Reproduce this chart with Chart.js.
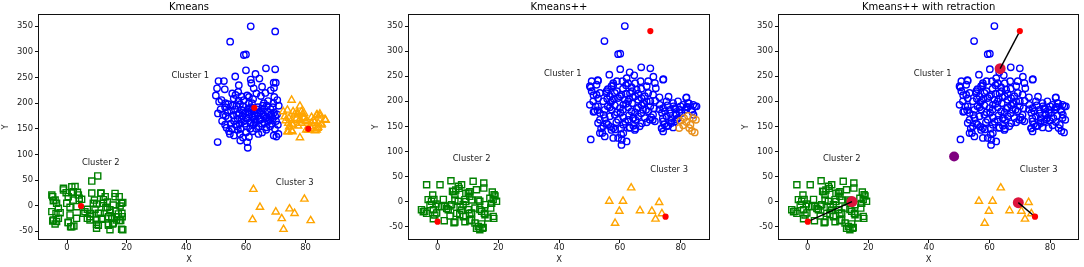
<!DOCTYPE html>
<html><head><meta charset="utf-8">
<script src="https://cdn.jsdelivr.net/npm/chart.js@4.4.1/dist/chart.umd.min.js"></script>
<style>
html,body{margin:0;padding:0;background:#fff;width:1084px;height:267px;overflow:hidden;}
canvas{position:absolute;top:0;}
</style></head><body>
<canvas id="c1" width="360" height="267" style="left:0px"></canvas>
<canvas id="c2" width="360" height="267" style="left:370px"></canvas>
<canvas id="c3" width="344" height="267" style="left:740px"></canvas>
<script>
// ---------- shared labels ----------
const titles = ['Kmeans', 'Kmeans++', 'Kmeans++ with retraction'];
const xTicks = [0, 20, 40, 60, 80];
const yTicks = [-50, 0, 50, 100, 150, 200, 250, 300, 350];
const noteText = ['Cluster 1', 'Cluster 2', 'Cluster 3'];
const notePosKm = [[35, 250], [5, 80], [70, 40]];
const notePosPP = [[35, 250], [5, 80], [70, 60]];

// ---------- panel 1 : Kmeans ----------
const kmCluster1 = [
[61.6,350],[54.7,320],[69.8,340],[59.3,294],[60,295],[60,264],[66.7,268],[69.8,266],[56.4,252],[63.2,257],[61.6,246],[64.5,248],[50.8,243],[52.6,243],[50.3,229],[52.9,227],[49.9,215],[57.6,235],[57.4,222],[55.4,219],[61.8,239],[62.6,229],[63.5,219],[65,214],[65.4,232],[66.5,220],[67.4,204],[68.3,225],[69.3,240],[70,240],[69.4,230],[69.5,212],[70.5,206],[69.2,200],[51,203],[51.8,206],[53.1,200],[55.9,209],[56.5,216],[59.3,206],[58.5,213],[60.4,215],[61,212],[62.4,208],
[50.6,180],[51.5,188],[52.3,178],[53,192],[53.8,183],[54.2,170],[54.9,160],[55.2,150],[54.6,140],[55.8,176],[56.3,188],[56.8,195],[57.2,170],[57.6,180],[57.9,160],[58.2,150],[58.5,187],[58.8,175],[59.1,193],[59.4,165],[59.8,181],[60.2,155],[60.5,170],[60.8,190],[61.1,178],[61.5,162],[61.8,185],[62.2,172],[62.5,158],[62.9,180],[63.3,165],[63.6,188],[64,175],[64.3,155],[64.7,182],[65,168],[65.4,160],[65.8,178],[66.1,190],[66.5,170],[66.9,153],[67.2,183],[67.6,165],[68,175],[68.3,188],[68.7,160],[69,170],[69.4,182],[69.7,150],[70.1,165],[70.4,178],[70.7,158],[70.9,140],[70.2,135],[69.3,137],[71,195],
[50.5,124],[58.1,127],[60.6,113],[60.4,124],[61,134],[56,137],[54.3,145],[53.5,152],[57.3,148],[60,143],[62.3,145],[63.5,150],[65.4,143],[66.8,148],[64.2,140],
[53.2,175],[55,185],[56,165],[57,155],[58,198],[59,185],[60,172],[61,200],[62,188],[63,176],[64,192],[65,185],[66,175],[67,195],[68,168],[69,192],[55.5,195],[57.5,205],[59.6,160],[61.4,150],[62.8,168],[64.5,168],[66.2,162],[68.5,178],[52,165],[53,158],[56.6,158],[58.6,168],[60.9,183],[63.8,182],[67,172],[69.8,175],[54,198],[66,200],[62,200],[58,140],[59,133],[57,177],[61.7,192],[63.1,162],[65.6,195],[68.1,155]
];
const kmCluster3Upper = [
[75.3,206],[78.1,194.5],[72.5,183.4],[73.9,186.7],[75.8,183.4],[76.4,179],[77.3,181.4],[78.6,183.4],[79.5,180],[73,173.6],[74.4,170.5],[75.3,167],[77,170.5],[78.1,168.5],[79.2,172.4],[80.3,167],[82,172.4],[83.7,177],[84.8,179],[86.7,167],[83.1,164],[84.2,161],[85.3,157.5],[74.2,161],[75.8,157.5],[77.5,155.5],[78.6,161],[74.2,144.4],[75.3,146.4],[78.1,132.6],[80.2,147.7],[82,151],[83.7,147.7],[84.2,153],[82,161],
[73.3,166],[73.9,144.5],[75.6,144.5],[77.3,177],[77.9,166],[79,179],[79.4,170],[80.1,164],[80.9,147.7],[81.5,154],[83.9,177],[84.8,175],[85.4,159.4],[86.5,168.5],[84,151],[82.6,166],[83.2,146.4],[75.4,159.4],[74.5,154]
];
const kmCluster3Lower = [[62.5,32],[64.7,-3],[62.2,-27],[70,-12],[72,-25],[72.6,-46],[74.6,-6],[76.3,-15],[79.6,13],[81.7,-29]];
const kmCluster2 = [
[8.3,48],[10.3,58],[-4.8,17.5],[-4,11],[-1.2,34],[-0.3,25.4],[1.6,37],[2.1,27],[3.8,21],[4.9,12.4],[11.3,24.2],[12.8,17.5],[16.1,24],[17.5,17.5],[18.3,4.6],[-3.5,4.6],[-2.9,-5],[-2.3,-13.7],[-4.6,-28],[-3.5,-31],[-5.1,-11.6],[-0.1,4.6],[1,-3],[2.1,11],[0.4,-33],[1.6,-41],[3.3,-2],[6,-11.7],[7.7,-21.5],[8.8,4.6],[9.4,-7],[10.5,-14.8],[10,-28],[10.5,-38],[11.6,-26.6],[12.2,4.6],[13.5,-3],[14.4,-13.7],[15,-24.6],[15.5,-34],[16.7,-21.5],[17.5,-29],[17.8,-0.6],[18.4,-14.8],[18.7,-47],[14.4,-47],[13.9,-38],
[-5.1,20.9],[-4.6,9.8],[-3.7,-15],[-2.9,-24.6],[-4.8,-29.8],[-4,-35.7],[-1.2,30.7],[0.4,17.6],[1.6,25.5],[2.7,37.2],[3.5,26],[4.1,14.4],[1,-18],[0.4,-33],[1.2,-41],[2.3,-39.6],[3.2,-24.6],[5.5,-14.9],[6.8,-7],[6.8,-24.6],[7.9,-15],[7.7,-28],[9.2,11],[9.9,3.3],[8.3,24.6],[11.4,24.6],[12.2,11.7],[13.5,7],[13,-4],[14.4,-7.7],[9.9,-44],[9.9,-36.4],[11.6,-24.6],[11.1,-15],[13.9,-21.5],[15.5,1.3],[16.1,17.6],[16.3,-9.7],[17.2,-16],[18,-29],[18.5,-21.5],[18.7,6],[18.3,-46],[15,-24.6],[15.3,-35.7],[16.6,-28],[13.9,-35.7]
];
const kmCentroids = [[62.8,191],[80.9,150],[4.7,-0.6]];

// ---------- panels 2 & 3 : Kmeans++ ----------
const ppCluster1 = [
[61.6,350],[54.9,320],[59.4,294],[60.1,295],[60.1,264],[67,267.7],[70,265.7],[56.5,253],[63.2,257.7],
[64.7,251.7],[50.7,240],[52.8,241],[52.3,233],[50.1,230],[57.8,236],[57.2,230],[62.2,246],[62.7,236],[63.8,228],[65,236],[65.5,223],[63.3,216],[50.7,220],[52.3,213],[53.4,216.5],[55.6,220],[56.7,210],[58.3,216.5],[59.4,206.5],[60.5,213],[61.6,203],[62.7,200],[64.3,208],[66,203],[51.2,200],[50.1,193],[52.8,190],[54.5,200],[51.7,180],[53.4,176.6],[55,183],[56.7,188],[58.3,192],[60,186.5],[61.1,193],[62.7,188],[63.8,180],[65.5,185],[67.1,192],[55,166.6],[56.7,170],[58.3,173],[59.4,163],[61.1,168],[62.7,163],[64.3,166.6],[66,170],[52.8,156.7],[54.5,150],[56.1,153],[57.8,146.7],[61.1,153],[63.3,148],[64.9,143],[66.5,150],[53.4,136.7],[55,130],[57.2,143],[59.4,127],[61.1,136.7],[62.2,120],[60.5,113],[50.4,124],
[69.3,240],[71.5,236.4],[74.2,243],[68.8,230],[69.3,216.5],[70.9,213],[67.1,206.5],[67.6,196.5],[68.8,200],[81.9,208],[75.3,200],[77.5,196.5],[79.1,200],[80.8,193],[82.4,196.5],[84.1,193],[85.2,190],[73.1,193],[74.2,186.5],[76.4,183],[78.1,186.5],[79.7,183],[81.9,188],[83.5,183],[67.6,183],[69.3,180],[70.9,173],[68.2,166.6],[69.8,163],[71.5,160],[74.8,180],[75.3,170],[76.9,166.6],[78.6,173],[80.3,176.6],[74.2,160],[73.7,146.7],[74.2,140],[75.3,150],[76.9,156.7],[77.5,148],[78.1,160],[79.1,166.6],
[50.4,227.7],[52.7,242],[51.3,212],[52.8,206],[52,190],[51.3,179],[52.6,182],[57.8,232],[56,224],[55.6,216],[57.4,202],[56,190],[54.6,173],[53.4,163],[53.8,146],[54.2,137],[55.6,156],[56.9,149],[57.8,127],[58.4,144],[60.4,134],[60.6,123],[60.4,146],[61.7,159],[63.1,147],[64.4,151],[65.1,163],[65.1,146],[64.4,166],
[67.2,156],[68.8,158],[70.3,168],[70.8,163],[68.6,183],[70,190],[71.6,201],[71.2,186],[73,184],[73.8,177],[74.1,166],[73.8,146],[74.6,154],[75.9,151],[76,209],[75.6,192],[77.6,190],[78.4,184],[78.4,175],[78.7,164],[76.8,161],[76.5,176],[79.6,178],[81.8,207],[81.4,183],[82.2,189],[83.8,179],[84.7,190],[84.2,173],[82.7,196],[80,190],[74.3,244],[71,249],
[58,205],[59,220],[60,210],[61,225],[62,215],[63,205],[64,220],[65,210],[66,215],[67,225],[57,198],[59,178],[61,183],[63,172],[65,178],[67,176],[58.8,158],[60.2,177],[62,195],[64,196],[66,188],[68,195],[55.8,205],[57.3,183],[60.8,240],[62,232],[59,240],[66.8,240],[68.2,210],[70,200],[71.8,226],[73,208]
];
const ppCluster1Edge = [[79.9,161],[81.1,166.6],[82.4,171],[84.1,166.6],[85,163],[79.5,146.7],[80.8,152],[81.9,158.6],[83.2,153],[83.7,141],[84.6,138],[82.8,146.7]];
const ppCluster2 = [
[-3.6,33.7],[0.8,33.7],[4.4,41.6],[11.7,40.4],[15.2,37],[15.2,27],[6.8,30.5],[7.9,33.7],[4.9,20.5],[5.7,13.7],[10.1,17],[10.6,10.5],[12.8,23.7],[18,19],[18.6,13.7],[18.3,4],[19.4,0.6],[-3.1,4],[-2,0.6],[-2.5,-6],[-5.3,-16],[-4.2,-19.4],[-1.4,-16],[-0.3,-22.7],[0.2,-9.4],[-1.4,-34],[2.2,-38],[5.7,-40.6],[7.3,-26],[2.4,-9.4],[3.5,-16],[4.6,-6],[6.8,0.6],[8.4,-6],[9,4],[10.1,-16],[11.2,-22.7],[12.3,-12.8],[10.6,-38],[12.3,-42.7],[13.4,-49.4],[13.9,-56],[15,-51.4],[14.5,-19.4],[15.6,-26],[16.6,-32.7],[18.3,-29.4],[17.5,-12.8],[15.6,-6],[13.9,0.6],
[-4.7,-20],[-3.6,-23.4],[-1.6,13],[-1.2,4.5],[-0.5,-4.8],[1.3,-10],[1.9,4.5],[3,-13.5],[4.1,-8.8],[5.2,19.8],[6,23],[7.1,26.4],[5.7,3.2],[7.4,-10],[7.9,-16.8],[9.3,16.5],[10.6,19.8],[9.3,0],[11.2,3.2],[13.4,3.2],[13.9,-15.5],[15.4,-23.4],[17.2,6.5],[17.8,-3.5],[18.9,11],[18.5,-33.4],[10.6,-23.4],[11.2,-36.7],[12.8,-53.3],[14.5,-44.5],[14.8,-53.3],[8.5,-30],[9,-40],[6.3,-23.4],[4.1,-28.7],[5.4,-42],[-0.9,-26.7]
];
const ppCluster3 = [[56.5,1],[58.4,-43],[59.8,-19],[61,1],[63.7,27.7],[66.6,-18],[70.5,-19],[71.7,-34.7],[72.9,-1.5],[73.8,-24]];
const ppInitCentroids = [[70,340],[0,-40],[75,-30]];
const retractedCentroids = [[63.5,265],[14.6,0],[69.5,-2]];
const extraCentroid = [[48.3,90]];

// ---------- helpers ----------
const pts = a => a.map(p => ({x: p[0], y: p[1]}));
function marks(data, style, color, radius, order, filled, bw) {
  return {data: pts(data), pointStyle: style, pointRadius: radius, pointHoverRadius: radius,
    pointBorderColor: color, pointBackgroundColor: filled ? color : 'rgba(0,0,0,0)',
    pointBorderWidth: bw === undefined ? 1.4 : bw, showLine: false, order: order};
}
function segment(a, b) {
  return {data: pts([a, b]), showLine: true, borderColor: '#000', borderWidth: 1.4,
    pointRadius: 0, pointHoverRadius: 0, order: 2, fill: false};
}
const FONT = 'DejaVu Sans';
const framePlugin = {
  id: 'frame',
  afterDatasetsDraw(chart, args, opts) {
    const {ctx, chartArea: a, scales} = chart;
    ctx.save();
    ctx.fillStyle = '#1a1a1a';
    ctx.font = '8.4px "' + FONT + '"';
    ctx.textAlign = 'left';
    ctx.textBaseline = 'alphabetic';
    opts.notes.forEach((p, i) => ctx.fillText(noteText[i], scales.x.getPixelForValue(p[0]), scales.y.getPixelForValue(p[1])));
    ctx.strokeStyle = '#111';
    ctx.lineWidth = 1;
    ctx.strokeRect(Math.round(a.left) - 0.5, Math.round(a.top) - 0.5, Math.round(a.right - a.left) + 1, Math.round(a.bottom - a.top) + 1);
    ctx.font = '10px "' + FONT + '"';
    ctx.textAlign = 'center';
    ctx.fillStyle = '#000';
    ctx.fillText(opts.title, (a.left + a.right) / 2, a.top - 4.7);
    ctx.restore();
  }
};
function makeChart(id, title, datasets, xr, yr, padRight, notes) {
  const tickFont = {family: FONT, size: 8.4};
  const grid = {display: true, drawOnChartArea: false, drawTicks: true, tickLength: 4, color: '#111', lineWidth: 1};
  return new Chart(document.getElementById(id), {
    type: 'scatter',
    data: {datasets: datasets},
    plugins: [framePlugin],
    options: {
      responsive: false, devicePixelRatio: 1, animation: false,
      layout: {padding: {top: 15, right: padRight, bottom: 0, left: 0}},
      plugins: {legend: {display: false}, tooltip: {enabled: false}, frame: {title: title, notes: notes}},
      scales: {
        x: {type: 'linear', min: xr[0], max: xr[1],
          afterBuildTicks: s => { s.ticks = xTicks.map(v => ({value: v})); },
          afterFit: s => { s.height = 28; },
          grid: grid, border: {display: false},
          ticks: {font: tickFont, color: '#1a1a1a', padding: 0, maxRotation: 0, autoSkip: false},
          title: {display: true, text: 'X', font: tickFont, color: '#1a1a1a', padding: {top: 0, bottom: 2.4}}},
        y: {type: 'linear', min: yr[0], max: yr[1],
          afterBuildTicks: s => { s.ticks = yTicks.map(v => ({value: v})); },
          afterFit: s => { s.width = 39; },
          grid: grid, border: {display: false},
          ticks: {font: tickFont, color: '#1a1a1a', padding: 2, autoSkip: false},
          title: {display: true, text: 'Y', font: tickFont, color: '#1a1a1a', padding: {top: 0.6, bottom: 0}}}
      }
    }
  });
}

const BLUE = '#0000ff', GREEN = '#008000', ORANGE = '#ffa500', RED = '#ff0000';

makeChart('c1', titles[0], [
  marks(kmCentroids, 'circle', RED, 3.1, 0, true, 0),
  marks(kmCluster1, 'circle', BLUE, 3.2, 5),
  marks(kmCluster3Upper, 'triangle', ORANGE, 4.2, 4),
  marks(kmCluster3Lower, 'triangle', ORANGE, 4.2, 4),
  marks(kmCluster2, 'rect', GREEN, 4.3, 6)
], [-9.4, 91.2], [-65, 372], 21, notePosKm);

makeChart('c2', titles[1], [
  marks(ppInitCentroids, 'circle', RED, 3.1, 0, true, 0),
  marks(ppCluster1, 'circle', BLUE, 3.2, 6),
  marks(ppCluster1Edge, 'circle', '#e8901c', 3.2, 5),
  marks(ppCluster3, 'triangle', ORANGE, 4.2, 5),
  marks(ppCluster2, 'rect', GREEN, 4.3, 6)
], [-9.4, 89.3], [-74.5, 372], 21, notePosPP);

makeChart('c3', titles[2], [
  marks(ppInitCentroids, 'circle', RED, 3.1, 0, true, 0),
  segment(ppInitCentroids[0], retractedCentroids[0]),
  segment(ppInitCentroids[1], retractedCentroids[1]),
  segment(ppInitCentroids[2], retractedCentroids[2]),
  marks(retractedCentroids, 'circle', '#dc143c', 5.5, 3, true, 0),
  marks(extraCentroid, 'circle', '#800080', 5, 3, true, 0),
  marks(ppCluster1, 'circle', BLUE, 3.2, 6),
  marks(ppCluster1Edge, 'circle', BLUE, 3.2, 6),
  marks(ppCluster3, 'triangle', ORANGE, 4.2, 5),
  marks(ppCluster2, 'rect', GREEN, 4.3, 6)
], [-9.5, 89.3], [-74.5, 372], 5, notePosPP);
</script>
</body></html>
